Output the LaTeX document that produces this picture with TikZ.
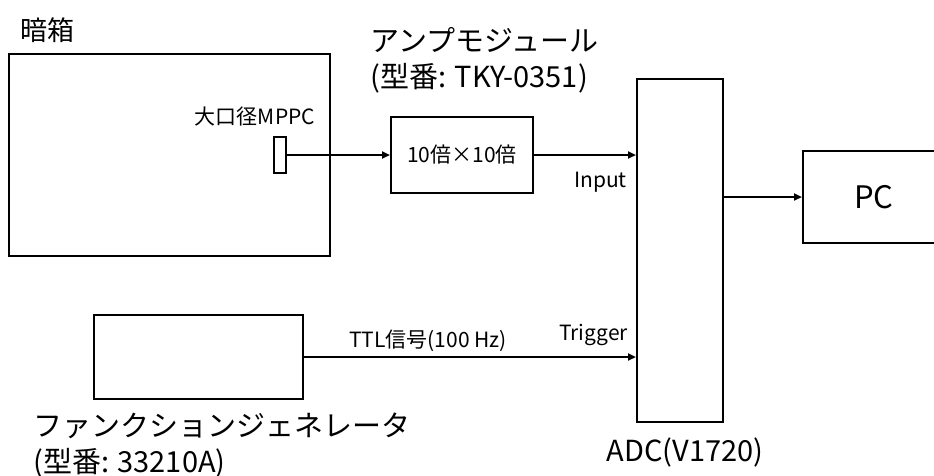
\documentclass[tikz,border=0pt]{standalone}
\usepackage{fontspec}
\setmainfont{Noto Sans CJK JP}
\usetikzlibrary{arrows.meta}

\tikzset{
  blk/.style={draw, line width=2pt, inner sep=0pt},
  sig/.style={line width=2.2pt, -{Triangle[length=8pt,width=7pt]}},
  biglbl/.style={font=\fontsize{29}{36}\selectfont, inner sep=0pt},
  smalllbl/.style={font=\fontsize{21}{24}\selectfont, inner sep=0pt}
}

\begin{document}
\begin{tikzpicture}[x=1pt,y=-1pt]
\useasboundingbox (0,0) rectangle (934,475);
% boxes
\node[blk, minimum width=321pt, minimum height=202pt] (darkbox) at (169.5,155) {};
\node[blk, minimum width=12pt, minimum height=36pt] (mppc) at (280,155) {};
\node[blk, minimum width=142pt, minimum height=76pt, font=\fontsize{21}{24}\selectfont] (amp) at (462,155) {10倍×10倍};
\node[blk, minimum width=86pt, minimum height=343pt] (adc) at (680,250.5) {};
\node[blk, minimum width=142pt, minimum height=92pt, font=\fontsize{31}{36}\selectfont] (pc) at (874,197) {PC};
\node[blk, minimum width=209pt, minimum height=84pt] (fg) at (198.5,357) {};
% labels
\node[biglbl, font=\fontsize{27}{36}\selectfont, anchor=west] (darklbl) at (20,30) {暗箱};
\node[biglbl, anchor=west, align=left] (amplbl) at (370,60) {アンプモジュール\\(型番: TKY-0351)};
\node[smalllbl] (mppclbl) at (255,117) {大口径MPPC};
\node[smalllbl, anchor=east] (inlbl) at (627,182) {Input};
\node[smalllbl, anchor=east] (triglbl) at (628,335) {Trigger};
\node[smalllbl] (ttllbl) at (428,341) {TTL信号(100 Hz)};
\node[biglbl] (adclbl) at (685,452) {ADC(V1720)};
\node[biglbl, anchor=north west, align=left] (fglbl) at (33,413) {ファンクションジェネレータ\\(型番: 33210A)};
% connections
\draw[sig] (mppc.east) -- (amp.west);
\draw[sig] (amp.east) -- (amp.east -| adc.west);
\draw[sig] (pc.west -| adc.east) -- (pc.west);
\draw[sig] (fg.east) -- (fg.east -| adc.west);
\end{tikzpicture}
\end{document}
